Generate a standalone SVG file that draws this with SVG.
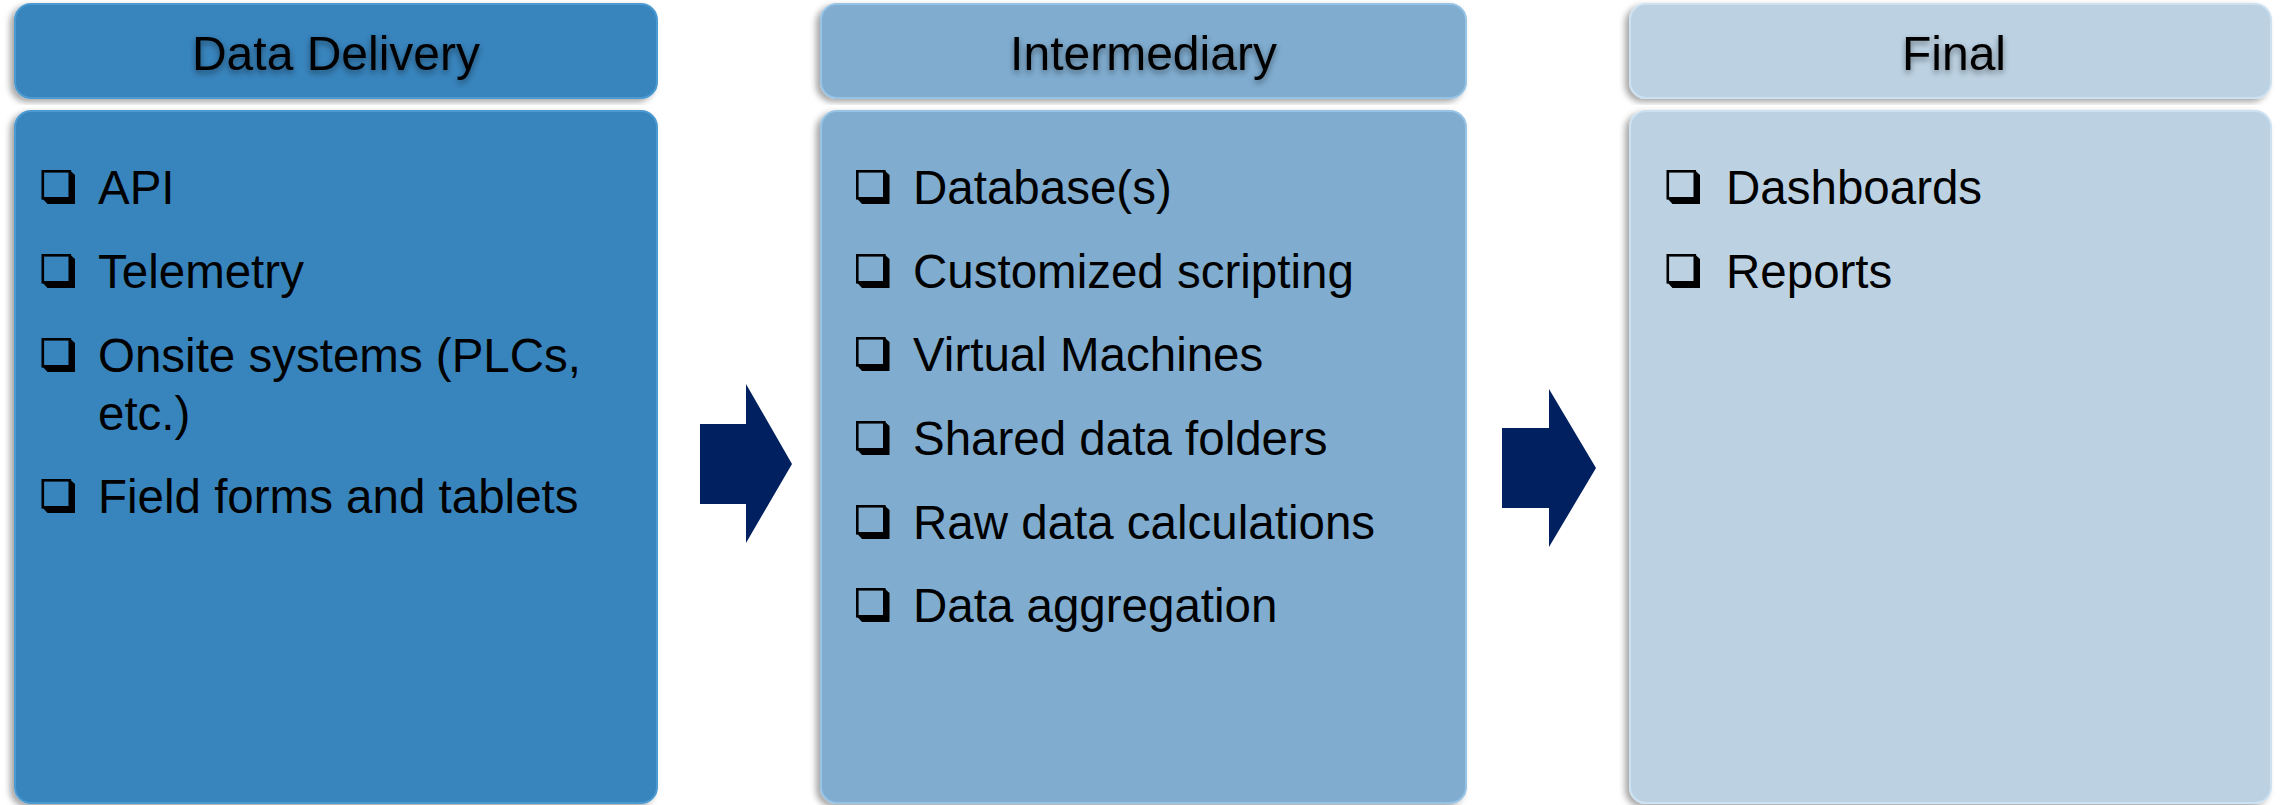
<svg xmlns="http://www.w3.org/2000/svg" xmlns:xlink="http://www.w3.org/1999/xlink" width="2285" height="805" viewBox="0 0 2285 805">
<style>
.hdr{font-family:"Liberation Sans",Arial,sans-serif;font-size:48px;fill:#000;text-anchor:middle}
.item{font-family:"Liberation Sans",Arial,sans-serif;font-size:47.5px;fill:#000}
.c1{fill:#3784BD;stroke:#4C9AD2;stroke-width:2}
.c2{fill:#7FACCF;stroke:#97C3E5;stroke-width:2}
.c3{fill:#BCD2E3;stroke:#CDE1F1;stroke-width:2}
.arrow{fill:#002060}
</style>
<defs>
<filter id="sh" x="-5%" y="-5%" width="110%" height="112%">
<feDropShadow dx="-4" dy="3" stdDeviation="3" flood-color="#000" flood-opacity="0.35"/>
</filter>
<filter id="tsh" x="-10%" y="-30%" width="120%" height="160%">
<feGaussianBlur in="SourceAlpha" stdDeviation="3"/>
<feOffset dx="0" dy="3" result="b"/>
<feComponentTransfer><feFuncA type="linear" slope="0.45"/></feComponentTransfer>
<feMerge><feMergeNode/><feMergeNode in="SourceGraphic"/></feMerge>
</filter>
<g id="cb">
<rect x="1.3" y="1.3" width="27" height="27" fill="none" stroke="#000" stroke-width="2.6"/>
<polygon points="28.5,0.5 33.5,5 33.5,34 6,34 1,28.5 28.5,28.5" fill="#000"/>
</g>
</defs>

<g id="node-data-delivery">
<rect class="c1" x="15" y="4" width="642" height="94" rx="16" filter="url(#sh)"/>
<text class="hdr" x="336" y="70" filter="url(#tsh)">Data Delivery</text>
<rect class="c1" x="15" y="111" width="642" height="692" rx="16" filter="url(#sh)"/>
<use xlink:href="#cb" x="41.5" y="170"/>
<text class="item" x="98" y="204">API</text>
<use xlink:href="#cb" x="41.5" y="254"/>
<text class="item" x="98" y="288">Telemetry</text>
<use xlink:href="#cb" x="41.5" y="338"/>
<text class="item" x="98" y="372">Onsite systems (PLCs,</text>
<text class="item" x="98" y="430">etc.)</text>
<use xlink:href="#cb" x="41.5" y="479"/>
<text class="item" x="98" y="513">Field forms and tablets</text>
</g>

<g id="node-intermediary">
<rect class="c2" x="821" y="4" width="645" height="94" rx="16" filter="url(#sh)"/>
<text class="hdr" x="1143.5" y="70" filter="url(#tsh)">Intermediary</text>
<rect class="c2" x="821" y="111" width="645" height="692" rx="16" filter="url(#sh)"/>
<use xlink:href="#cb" x="856" y="170"/>
<text class="item" x="913" y="204">Database(s)</text>
<use xlink:href="#cb" x="856" y="254"/>
<text class="item" x="913" y="288">Customized scripting</text>
<use xlink:href="#cb" x="856" y="337"/>
<text class="item" x="913" y="371">Virtual Machines</text>
<use xlink:href="#cb" x="856" y="421"/>
<text class="item" x="913" y="455">Shared data folders</text>
<use xlink:href="#cb" x="856" y="505"/>
<text class="item" x="913" y="539">Raw data calculations</text>
<use xlink:href="#cb" x="856" y="588"/>
<text class="item" x="913" y="622">Data aggregation</text>
</g>

<g id="node-final">
<rect class="c3" x="1630" y="4" width="641" height="94" rx="16" filter="url(#sh)"/>
<text class="hdr" x="1954" y="70" filter="url(#tsh)">Final</text>
<rect class="c3" x="1630" y="111" width="641" height="692" rx="16" filter="url(#sh)"/>
<use xlink:href="#cb" x="1666.5" y="170"/>
<text class="item" x="1726" y="204">Dashboards</text>
<use xlink:href="#cb" x="1666.5" y="254"/>
<text class="item" x="1726" y="288">Reports</text>
</g>

<g id="connectors">
<polygon class="arrow" points="700,424 746,424 746,384 792,464 746,543 746,504 700,504"/>
<polygon class="arrow" points="1502,428 1549,428 1549,389 1596,468 1549,547 1549,508 1502,508"/>
</g>
</svg>
